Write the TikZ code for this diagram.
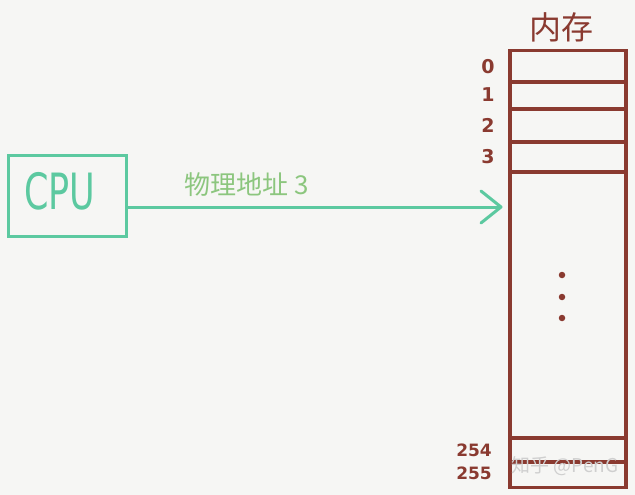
\documentclass[tikz,border=0pt]{standalone}
\usepackage{fontspec}
\setmainfont{DejaVu Sans}
\newfontfamily\cjk{Noto Sans CJK SC}
\newfontfamily\hand{DejaVu Sans}
\definecolor{bg}{HTML}{F6F6F4}
\definecolor{memred}{HTML}{8A3A30}
\definecolor{teal}{HTML}{5CC9A0}
\definecolor{lblgreen}{HTML}{8CC67E}
\definecolor{wm}{HTML}{CFCFCF}
\begin{document}
\begin{tikzpicture}[x=1pt,y=-1pt,
  membox/.style={draw=memred,line width=3.5pt,inner sep=0pt,minimum width=116pt,minimum height=437pt},
  memline/.style={draw=memred,line width=3.5pt},
  cpubox/.style={draw=teal,line width=3pt,inner sep=0pt,minimum width=118pt,minimum height=81pt},
  idx/.style={text=memred,font=\hand\fontsize{19}{19}\selectfont\bfseries,inner sep=0pt},
  dotst/.style={circle,fill=memred,inner sep=0pt,minimum size=6.5pt}]
\fill[bg] (0,0) rectangle (635,495);
\useasboundingbox (0,0) rectangle (635,495);
% CPU
\node[cpubox] (cpu) at (67,195.5) {};
\node[text=teal,inner sep=0pt] (cputxt) at (60,191) {\scalebox{0.7}[1]{\hand\fontsize{50}{50}\selectfont CPU}};
% memory
\node[membox] (mem) at (568,269) {};
\foreach \yy/\nm in {82/a,109/b,142/c,172/d,438/e,462/f}{
  \coordinate (l\nm) at (568,\yy);
  \draw[memline] (mem.west |- l\nm) -- (mem.east |- l\nm);
}
\node[text=memred,font=\cjk\fontsize{32}{32}\selectfont,inner sep=0pt] (title) at (561,27) {内存};
% indices
\node[idx] (i0) at (488,67) {0};
\node[idx] (i1) at (488,95) {1};
\node[idx] (i2) at (488,125) {2};
\node[idx] (i3) at (488,157) {3};
\node[idx,font=\hand\fontsize{17}{17}\selectfont\bfseries] (i254) at (474,450) {254};
\node[idx,font=\hand\fontsize{17}{17}\selectfont\bfseries] (i255) at (474,473) {255};
% dots
\node[dotst] (d1) at (562,275) {};
\node[dotst] (d2) at (562,297) {};
\node[dotst] (d3) at (562,318) {};
% arrow
\coordinate (tip) at (501,207);
\draw[teal,line width=3pt] (cpu.east |- tip) -- (tip);
\draw[teal,line width=3pt,line cap=round,line join=round] ([shift={(-20,-16)}]tip) -- (tip) -- ([shift={(-20,16)}]tip);
\node[text=lblgreen,font=\cjk\fontsize{26}{26}\selectfont,inner sep=0pt] (lbl) at (247,185) {物理地址 3};
% watermark
\node[text=wm,font=\cjk\fontsize{19}{19}\selectfont,inner sep=0pt] (wmk) at (565,466) {知乎 @PenG};
\end{tikzpicture}
\end{document}
